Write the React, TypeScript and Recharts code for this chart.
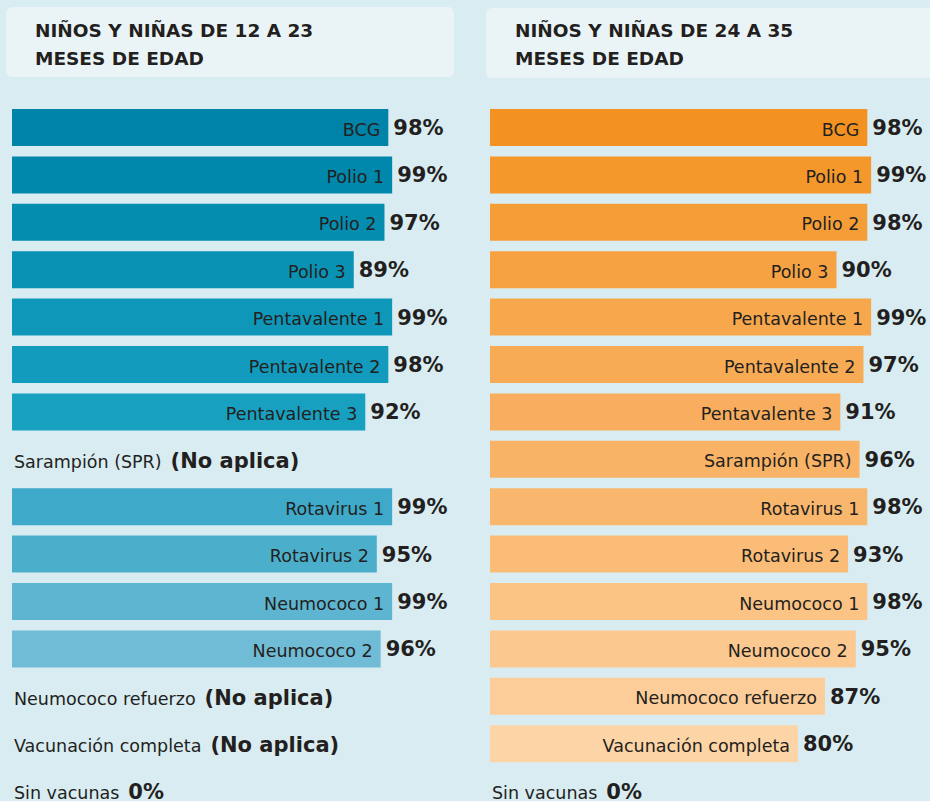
import React from 'react';
import { BarChart, Bar, XAxis, YAxis, Cell, LabelList } from 'recharts';

const categories = [
  'BCG', 'Polio 1', 'Polio 2', 'Polio 3', 'Pentavalente 1', 'Pentavalente 2', 'Pentavalente 3',
  'Sarampión (SPR)', 'Rotavirus 1', 'Rotavirus 2', 'Neumococo 1', 'Neumococo 2',
  'Neumococo refuerzo', 'Vacunación completa', 'Sin vacunas',
];

// null = "No aplica"
const values12a23: (number | null)[] = [98, 99, 97, 89, 99, 98, 92, null, 99, 95, 99, 96, null, null, 0];
const values24a35: (number | null)[] = [98, 99, 98, 90, 99, 97, 91, 96, 98, 93, 98, 95, 87, 80, 0];

const colors12a23 = [
  '#0083a8', '#0088ac', '#058db0', '#0a92b4', '#0e97b8', '#129bbc', '#17a0c0',
  '#2ba5c4', '#3ea9c9', '#4bafcc', '#5db5d1', '#70bbd5', '#7fc2d9', '#8cc8dc', '#9acfe0',
];
const colors24a35 = [
  '#f39220', '#f4982b', '#f59e37', '#f6a242', '#f7a74c', '#f8ab55', '#f8ae5e',
  '#f9b366', '#f9b76d', '#fabc76', '#fbc485', '#fbc890', '#fccd99', '#fdd4a6', '#fdd9b0',
];

const titles = [
  ['NIÑOS Y NIÑAS DE 12 A 23', 'MESES DE EDAD'],
  ['NIÑOS Y NIÑAS DE 24 A 35', 'MESES DE EDAD'],
];

const NO_APLICA = '(No aplica)';
const TEXT = '#231f20';
const FONT = '"DejaVu Sans", sans-serif';

type Row = { name: string; value: number; text: string; empty: boolean };

const buildRows = (vals: (number | null)[]): Row[] =>
  categories.map((name, i) => {
    const v = vals[i];
    return {
      name,
      value: v == null ? 0 : v,
      text: v == null ? NO_APLICA : `${v}%`,
      empty: v == null || v === 0,
    };
  });

const rows12 = buildRows(values12a23);
const rows24 = buildRows(values24a35);

const findRow = (rows: Row[], name: any) => rows.find((r) => r.name === name);

// labels for rows that have a bar: name inside the bar end, value right after it
const makeLabel = (rows: Row[]) => (props: any) => {
  const vb = props.viewBox || {};
  const x = Number(props.x ?? vb.x);
  const y = Number(props.y ?? vb.y);
  const width = Number(props.width ?? vb.width) || 0;
  const height = Number(props.height ?? vb.height) || 0;
  const row = findRow(rows, props.value);
  if (!row || row.empty) return null;
  const cy = y + height / 2;
  const end = x + width;
  return (
    <g>
      <text x={end - 8} y={cy + 8} textAnchor="end" fontFamily={FONT} fontSize={17.5} fill={TEXT}>
        {row.name}
      </text>
      <text x={end + 5} y={cy + 7.5} fontFamily={FONT} fontSize={21} fontWeight={700} fill={TEXT}>
        {row.text}
      </text>
    </g>
  );
};

// category ticks: only drawn for rows with no bar (No aplica / 0%)
const makeTick = (rows: Row[]) => (props: any) => {
  const { x, y, payload } = props;
  const row = findRow(rows, payload && payload.value);
  if (!row || !row.empty) return <g />;
  return (
    <text x={Number(x) + 2} y={Number(y) + 8} fontFamily={FONT} fontSize={17.5} fill={TEXT} textAnchor="start">
      <tspan>{row.name}</tspan>
      <tspan dx={9} fontWeight={700} fontSize={21}>{row.text}</tspan>
    </text>
  );
};

const Panel = ({ rows, colors, left, margin }: { rows: Row[]; colors: string[]; left: number; margin: any }) => (
  <div style={{ position: 'absolute', left, top: 0 }}>
    <BarChart width={465} height={815} data={rows} layout="vertical" margin={margin}>
      <XAxis type="number" domain={[0, 100]} hide />
      <YAxis
        type="category"
        dataKey="name"
        width={1}
        axisLine={false}
        tickLine={false}
        tickSize={0}
        tickMargin={0}
        interval={0}
        tick={makeTick(rows)}
      />
      <Bar dataKey="value" barSize={37} isAnimationActive={false}>
        {rows.map((r, i) => (
          <Cell key={r.name} fill={colors[i]} />
        ))}
        <LabelList dataKey="name" content={makeLabel(rows)} />
      </Bar>
    </BarChart>
  </div>
);

const Header = ({ lines, boxLeft, boxTop, boxWidth, textX }: any) => (
  <>
    <div
      style={{
        position: 'absolute', left: boxLeft, top: boxTop, width: boxWidth, height: 70,
        background: '#eaf4f7', borderRadius: 6,
      }}
    />
    <svg style={{ position: 'absolute', left: 0, top: 0 }} width={930} height={90}>
      <text x={textX} y={37} fontFamily={FONT} fontWeight={700} fontSize={18.5} fill={TEXT}>{lines[0]}</text>
      <text x={textX} y={65} fontFamily={FONT} fontWeight={700} fontSize={18.5} fill={TEXT}>{lines[1]}</text>
    </svg>
  </>
);

export default function App() {
  return (
    <div
      style={{
        position: 'absolute', left: 0, top: 0, width: 930, height: 801, overflow: 'hidden',
        background: '#d9ecf2',
      }}
    >
      <Header lines={titles[0]} boxLeft={6} boxTop={7} boxWidth={448} textX={35} />
      <Header lines={titles[1]} boxLeft={486} boxTop={8} boxWidth={460} textX={515} />
      <Panel rows={rows12} colors={colors12a23} left={0} margin={{ top: 104, right: 69, bottom: 0, left: 11 }} />
      <Panel rows={rows24} colors={colors24a35} left={465} margin={{ top: 104, right: 55, bottom: 0, left: 24 }} />
    </div>
  );
}
